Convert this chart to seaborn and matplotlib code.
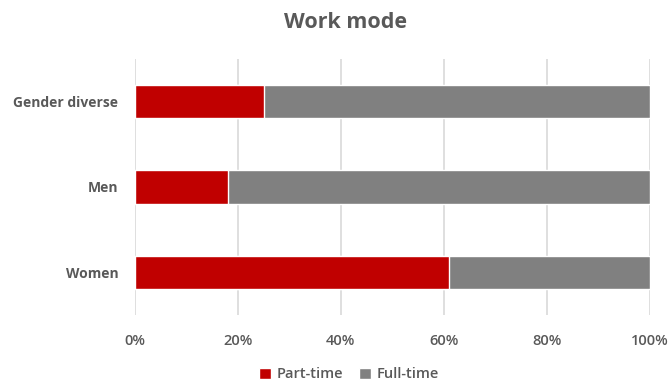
import matplotlib
matplotlib.use("Agg")
import pandas as pd
import seaborn as sns
import matplotlib.pyplot as plt
from matplotlib.patches import Patch
from matplotlib.ticker import PercentFormatter

groups = ["Gender diverse", "Men", "Women"]
part_time = [25, 18, 61]
full_time = [75, 82, 39]
series_names = ["Part-time", "Full-time"]
xticks = [0, 20, 40, 60, 80, 100]

red = "#C00000"
grey = "#808080"
txt = "#595959"

sns.set_theme(style="white")
plt.rcParams["font.family"] = ["Open Sans", "DejaVu Sans"]

df = pd.DataFrame({"group": groups, "part": part_time, "full": full_time})
df["total"] = df["part"] + df["full"]

fig, ax = plt.subplots(figsize=(6.71, 3.85), dpi=100)
fig.subplots_adjust(left=0.201, right=0.968, bottom=0.182, top=0.847)

# full bar in grey underneath, part-time drawn over it
sns.barplot(data=df, y="group", x="total", color=grey, orient="h",
            width=0.39, saturation=1, ax=ax, zorder=3)
sns.barplot(data=df, y="group", x="part", color=red, orient="h",
            width=0.39, saturation=1, ax=ax, zorder=4)

ax.set_xlim(0, 100)
ax.set_ylim(2.5, -0.5)
ax.set_xticks(xticks)
ax.xaxis.set_major_formatter(PercentFormatter(decimals=0))
ax.grid(axis="x", color="#D9D9D9", linewidth=1.2, zorder=0)
for s in ax.spines.values():
    s.set_visible(False)
ax.set_xlabel("")
ax.set_ylabel("")
ax.tick_params(axis="x", length=0, pad=14, labelsize=10.5, labelcolor=txt)
ax.tick_params(axis="y", length=0, pad=12, labelsize=10, labelcolor=txt)
for lbl in ax.get_yticklabels():
    lbl.set_fontweight("bold")
for lbl in ax.get_xticklabels():
    lbl.set_fontweight("semibold")

fig.suptitle("Work mode", x=0.515, y=0.97, fontsize=15.5, fontweight="bold", color=txt)

handles = [Patch(facecolor=red, label=series_names[0]),
           Patch(facecolor=grey, label=series_names[1])]
leg = fig.legend(handles=handles, loc="center", bbox_to_anchor=(0.52, 0.028), ncol=2,
                 frameon=False, fontsize=10.5, labelcolor=txt, handlelength=0.8,
                 handleheight=0.8, handletextpad=0.4, columnspacing=1.1)
for t in leg.get_texts():
    t.set_fontweight("semibold")

plt.savefig("out.png", dpi=100)
